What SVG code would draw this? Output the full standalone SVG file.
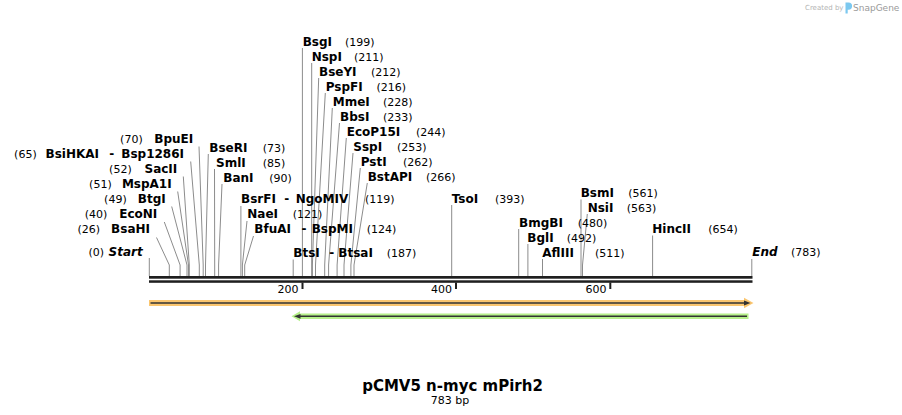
<svg xmlns="http://www.w3.org/2000/svg" width="902" height="415" viewBox="0 0 902 415">
<style>
.n{font-family:"DejaVu Sans",Verdana,sans-serif;font-size:12px;font-weight:bold;fill:#000}
.i{font-style:italic}
.p{font-family:"DejaVu Sans",Verdana,sans-serif;font-size:11px;fill:#000}
.e{text-anchor:end}
.cl{fill:none;stroke:#8c8c8c;stroke-width:1}
.bb{fill:#1f1f1f}
.dk{stroke:#333;stroke-width:1.5;fill:none}
.dkf{fill:#333}
</style>
<rect width="902" height="415" fill="#fff"/>
<g id="logo">
<text x="805" y="10" style="font-family:'DejaVu Sans',sans-serif;font-size:7px;fill:#b4b4b4">Created by</text>
<path d="M845.5,2.5 h3 a3.6,3.6 0 0 1 0,7.2 h-0.8 v3.8 h-2.2 z" fill="#7cc8ef"/>
<text x="853" y="11" style="font-family:'DejaVu Sans',sans-serif;font-size:9px;fill:#9a9a9a">SnapGene</text>
</g>
<g id="connectors" class="cl">
<polyline points="149.3,258 149.3,276"/>
<polyline points="156.5,237.5 169.3,265 169.3,276"/>
<polyline points="164.3,222 180.1,265 180.1,276"/>
<polyline points="171.7,206.5 187,265 187,276"/>
<polyline points="177.7,191.5 188.5,265 188.5,276"/>
<polyline points="183.3,176.5 189.3,265 189.3,276"/>
<polyline points="190.7,161.5 199.3,265 199.3,276"/>
<polyline points="199,146.5 203.2,265 203.2,276"/>
<polyline points="208.3,154 205.5,265 205.5,276"/>
<polyline points="214.5,169 214.7,265 214.7,276"/>
<polyline points="222,184 218.6,265 218.6,276"/>
<polyline points="240.9,206 240.9,276"/>
<polyline points="247,221 242.4,265 242.4,276"/>
<polyline points="253.5,236 244.7,265 244.7,276"/>
<polyline points="293.2,259.5 293.2,276"/>
<polyline points="302.4,48 302.4,276"/>
<polyline points="311.7,63 311.7,276"/>
<polyline points="318.7,78 312.4,265 312.4,276"/>
<polyline points="325.3,93 315.5,265 315.5,276"/>
<polyline points="332.3,108 324.7,265 324.7,276"/>
<polyline points="339.5,123 328.6,265 328.6,276"/>
<polyline points="346.3,138 337.1,265 337.1,276"/>
<polyline points="353,153 344,265 344,276"/>
<polyline points="360.3,168 350.9,265 350.9,276"/>
<polyline points="367.3,183 354,265 354,276"/>
<polyline points="451.7,205 451.7,276"/>
<polyline points="518.7,229 518.7,276"/>
<polyline points="527.9,244 527.9,276"/>
<polyline points="542.5,259 542.5,276"/>
<polyline points="581,199.5 581,276"/>
<polyline points="587.3,214 582.5,265 582.5,276"/>
<polyline points="652.6,235.5 652.6,276"/>
<polyline points="751.8,259 751.8,276"/>
</g>
<g id="site-start"><text class="p e" x="104" y="256">(0)</text><text class="n i e" x="142.7" y="256">Start</text></g>
<g id="site-bsahi"><text class="p e" x="100" y="233.3">(26)</text><text class="n e" x="150" y="233.3">BsaHI</text></g>
<g id="site-econi"><text class="p e" x="107.3" y="218.3">(40)</text><text class="n e" x="157.3" y="218.3">EcoNI</text></g>
<g id="site-btgi"><text class="p e" x="126.7" y="203.3">(49)</text><text class="n e" x="165.7" y="203.3">BtgI</text></g>
<g id="site-mspa1i"><text class="p e" x="111.7" y="188.3">(51)</text><text class="n e" x="171.7" y="188.3">MspA1I</text></g>
<g id="site-sacii"><text class="p e" x="131.7" y="173.3">(52)</text><text class="n e" x="177.3" y="173.3">SacII</text></g>
<g id="site-bsihkai"><text class="p e" x="36.7" y="158.3">(65)</text><text class="n e" x="99" y="158.3">BsiHKAI</text><text class="n" x="109.3" y="158.3">-</text><text class="n e" x="184" y="158.3">Bsp1286I</text></g>
<g id="site-bpuei"><text class="p e" x="142.7" y="143.3">(70)</text><text class="n e" x="193.3" y="143.3">BpuEI</text></g>
<g id="site-bseri"><text class="n" x="209.3" y="151.5">BseRI</text><text class="p" x="262.7" y="151.5">(73)</text></g>
<g id="site-smli"><text class="n" x="216" y="166.5">SmlI</text><text class="p" x="262.7" y="166.5">(85)</text></g>
<g id="site-bani"><text class="n" x="223.3" y="181.5">BanI</text><text class="p" x="269.3" y="181.5">(90)</text></g>
<g id="site-bsrfi"><text class="n" x="241" y="203.3">BsrFI</text><text class="n" x="284.3" y="203.3">-</text><text class="n" x="295.7" y="203.3">NgoMIV</text><text class="p" x="365" y="203.3">(119)</text></g>
<g id="site-naei"><text class="n" x="247.3" y="218.3">NaeI</text><text class="p" x="292.7" y="218.3">(121)</text></g>
<g id="site-bfuai"><text class="n" x="254.3" y="233.3">BfuAI</text><text class="n" x="301.5" y="233.3">-</text><text class="n" x="311.7" y="233.3">BspMI</text><text class="p" x="366.7" y="233.3">(124)</text></g>
<g id="site-btsi"><text class="n" x="293.3" y="257">BtsI</text><text class="n" x="329.3" y="257">-</text><text class="n" x="338.3" y="257">BtsaI</text><text class="p" x="386.7" y="257">(187)</text></g>
<g id="site-bsgi"><text class="n" x="302.7" y="45.5">BsgI</text><text class="p" x="345" y="45.5">(199)</text></g>
<g id="site-nspi"><text class="n" x="311.7" y="60.5">NspI</text><text class="p" x="354" y="60.5">(211)</text></g>
<g id="site-bseyi"><text class="n" x="319" y="75.5">BseYI</text><text class="p" x="371" y="75.5">(212)</text></g>
<g id="site-pspfi"><text class="n" x="325.7" y="90.5">PspFI</text><text class="p" x="376.5" y="90.5">(216)</text></g>
<g id="site-mmei"><text class="n" x="332.7" y="105.5">MmeI</text><text class="p" x="383" y="105.5">(228)</text></g>
<g id="site-bbsi"><text class="n" x="340" y="120.5">BbsI</text><text class="p" x="383" y="120.5">(233)</text></g>
<g id="site-ecop15i"><text class="n" x="346.7" y="135.5">EcoP15I</text><text class="p" x="416" y="135.5">(244)</text></g>
<g id="site-sspi"><text class="n" x="353.3" y="150.5">SspI</text><text class="p" x="397" y="150.5">(253)</text></g>
<g id="site-psti"><text class="n" x="360.7" y="165.5">PstI</text><text class="p" x="403" y="165.5">(262)</text></g>
<g id="site-bstapi"><text class="n" x="367.7" y="180.5">BstAPI</text><text class="p" x="426" y="180.5">(266)</text></g>
<g id="site-tsoi"><text class="n" x="451.7" y="202.7">TsoI</text><text class="p" x="495" y="202.7">(393)</text></g>
<g id="site-bsmi"><text class="n" x="580.7" y="197.3">BsmI</text><text class="p" x="628.3" y="197.3">(561)</text></g>
<g id="site-nsii"><text class="n" x="587.7" y="211.7">NsiI</text><text class="p" x="626.7" y="211.7">(563)</text></g>
<g id="site-bmgbi"><text class="n" x="519" y="226.7">BmgBI</text><text class="p" x="577.7" y="226.7">(480)</text></g>
<g id="site-bgli"><text class="n" x="527.3" y="241.7">BglI</text><text class="p" x="566.7" y="241.7">(492)</text></g>
<g id="site-afliii"><text class="n" x="542.3" y="256.7">AflIII</text><text class="p" x="595" y="256.7">(511)</text></g>
<g id="site-hincii"><text class="n" x="652.3" y="233.3">HincII</text><text class="p" x="708.3" y="233.3">(654)</text></g>
<g id="site-end"><text class="n i" x="752.3" y="256">End</text><text class="p" x="791" y="256">(783)</text></g>
<g id="backbone">
<rect class="bb" x="149" y="276" width="603.5" height="2.7"/>
<rect class="bb" x="149" y="280.3" width="603.5" height="2.5"/>
<rect class="bb" x="301.5" y="282.5" width="2" height="6.5"/>
<rect class="bb" x="455" y="282.5" width="2" height="6.5"/>
<rect class="bb" x="609.3" y="282.5" width="2" height="6.5"/>
<text class="p e" x="298.5" y="293">200</text>
<text class="p e" x="452" y="293">400</text>
<text class="p e" x="606.5" y="293">600</text>
</g>
<g id="feature-orange">
<path d="M149,300 H744 V297.8 L753.5,303 L744,308.2 V306 H149 Z" fill="#fbc66f"/>
<line class="dk" x1="150.5" y1="303" x2="746" y2="303"/>
<polygon class="dkf" points="744,300.6 750.5,303 744,305.4"/>
</g>
<g id="feature-green">
<path d="M748.5,313.5 H300 V311.3 L291.5,316.3 L300,321.3 V319 H748.5 Z" fill="#b6f08a"/>
<line class="dk" x1="298" y1="316.3" x2="747" y2="316.3"/>
<polygon class="dkf" points="294,316.3 300.5,313.9 300.5,318.7"/>
</g>
<g id="title">
<text x="452.5" y="391" text-anchor="middle" style="font-family:'DejaVu Sans',Verdana,sans-serif;font-size:15px;font-weight:bold;fill:#000">pCMV5 n-myc mPirh2</text>
<text x="450" y="403.5" text-anchor="middle" class="p">783 bp</text>
</g>
</svg>
